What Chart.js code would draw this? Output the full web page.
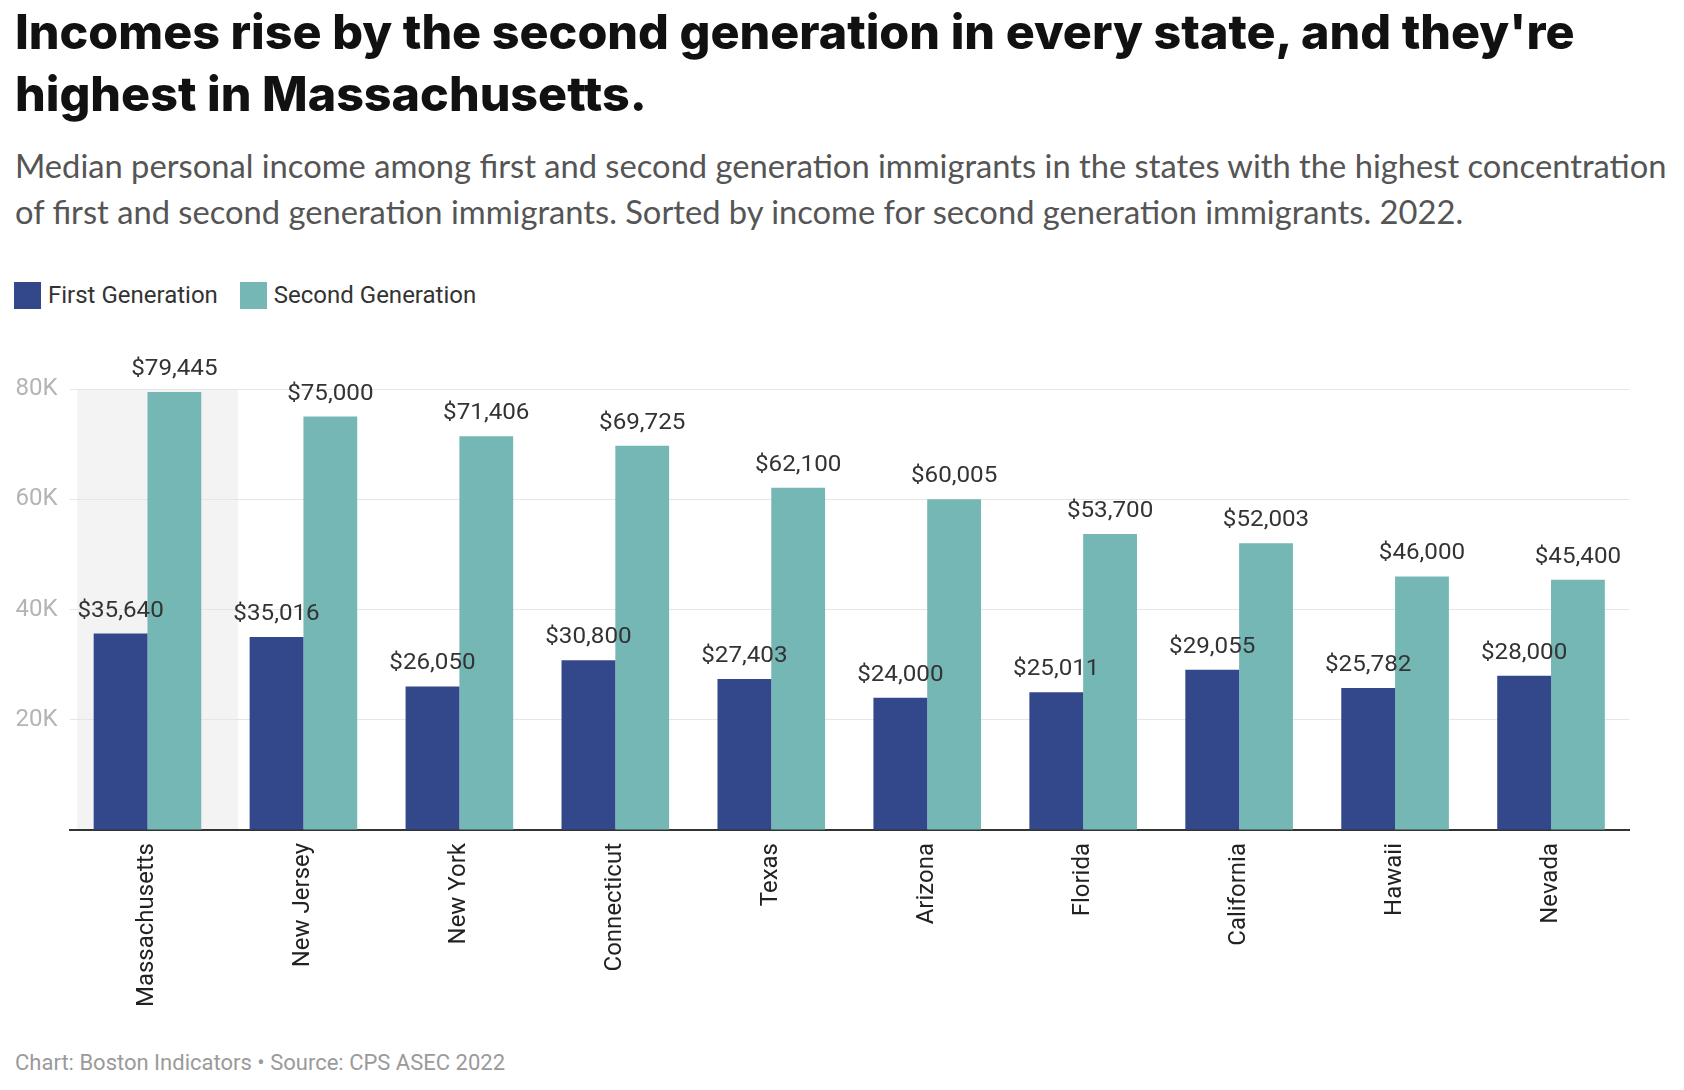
<!DOCTYPE html>
<html>
<head>
<meta charset="utf-8">
<script src="https://cdn.jsdelivr.net/npm/chart.js@4.4.1/dist/chart.umd.min.js"></script>
<style>
  body { margin: 0; background: #fff; width: 1684px; height: 1090px; position: relative; overflow: hidden; }
  #title { position: absolute; left: 15px; top: 1px; margin: 0; font-family: Inter, sans-serif; font-weight: 800; font-size: 48.4px; line-height: 62px; color: #111; white-space: nowrap; }
  #sub { position: absolute; left: 15px; top: 143px; margin: 0; font-family: Lato, sans-serif; font-size: 32.7px; line-height: 46px; color: #555; white-space: nowrap; }
  .legend { position: absolute; top: 281px; left: 14px; display: flex; align-items: center; font-family: Roboto, sans-serif; font-size: 24px; color: #333; }
  .sw { width: 27px; height: 27px; margin-right: 7px; }
  .item { display: flex; align-items: center; margin-right: 22px; }
  #wrap { position: absolute; left: 0; top: 340px; width: 1684px; height: 700px; }
  #foot { position: absolute; left: 15px; top: 1050px; font-family: Roboto, sans-serif; font-size: 22px; color: #9a9a9a; }
</style>
</head>
<body>
<h1 id="title">Incomes rise by the second generation in every state, and they're<br>highest in Massachusetts.</h1>
<p id="sub">Median personal income among first and second generation immigrants in the states with the highest concentration<br>of first and second generation immigrants. Sorted by income for second generation immigrants. 2022.</p>
<div class="legend">
  <div class="item"><div class="sw" style="background:#33488b"></div>First Generation</div>
  <div class="item"><div class="sw" style="background:#75b7b5"></div>Second Generation</div>
</div>
<div id="wrap"><canvas id="myChart"></canvas></div>
<div id="foot">Chart: Boston Indicators • Source: CPS ASEC 2022</div>

<script>
const states = ['Massachusetts', 'New Jersey', 'New York', 'Connecticut', 'Texas', 'Arizona', 'Florida', 'California', 'Hawaii', 'Nevada']
const firstGen = [35640, 35016, 26050, 30800, 27403, 24000, 25011, 29055, 25782, 28000]
const secondGen = [79445, 75000, 71406, 69725, 62100, 60005, 53700, 52003, 46000, 45400]
const yTicks = [20000, 40000, 60000, 80000]

// grey band behind the first state
const highlight = {
   id: 'highlight',
   beforeDraw(chart) {
      const x = chart.scales.x
      const area = chart.chartArea
      const c = x.getPixelForValue(0)
      const w = x.getPixelForValue(1) - c
      const ctx = chart.ctx
      ctx.save()
      ctx.fillStyle = '#f3f3f3'
      ctx.fillRect(c - 0.45 * w, area.top, 1.03 * w, area.bottom - area.top)
      ctx.restore()
   }
}

// dollar labels above the bars (text looks a bit wide in the original)
const barLabels = {
   id: 'barLabels',
   afterDatasetsDraw(chart) {
      const ctx = chart.ctx
      ctx.save()
      ctx.font = '22px Roboto'
      ctx.fillStyle = '#333'
      ctx.textAlign = 'center'
      chart.data.datasets.forEach((ds, i) => {
         chart.getDatasetMeta(i).data.forEach((bar, j) => {
            ctx.save()
            ctx.translate(bar.x, bar.y - 17)
            ctx.scale(1.1, 1)
            ctx.fillText('$' + ds.data[j].toLocaleString('en-US'), 0, 0)
            ctx.restore()
         })
      })
      ctx.restore()
   }
}

const ctx = document.getElementById('myChart')

new Chart(ctx, {
   type: 'bar',
   data: {
      labels: states,
      datasets: [
         { label: 'First Generation', data: firstGen, backgroundColor: '#33488b' },
         { label: 'Second Generation', data: secondGen, backgroundColor: '#75b7b5' }
      ]
   },
   options: {
      responsive: true,
      maintainAspectRatio: false,
      animation: false,
      categoryPercentage: 0.69,
      barPercentage: 1,
      layout: { padding: { top: 49, right: 55, bottom: 0, left: 0 } },
      plugins: { legend: { display: false }, tooltip: { enabled: false } },
      scales: {
         x: {
            grid: { display: false, drawTicks: false },
            border: { display: true, color: '#333', width: 2 },
            ticks: {
               color: '#222',
               font: { family: 'Roboto', size: 24 },
               minRotation: 90,
               maxRotation: 90,
               padding: 13
            },
            afterFit(scale) { scale.height = 210 }
         },
         y: {
            min: 0,
            max: 80000,
            afterBuildTicks(scale) { scale.ticks = [0, ...yTicks].map(v => ({ value: v })) },
            grid: { color: '#e6e6e6', lineWidth: 1, drawTicks: false },
            border: { display: false },
            ticks: {
               color: '#b4b4b4',
               font: { family: 'Roboto', size: 24 },
               padding: 12,
               callback: v => v === 0 ? '' : (v / 1000) + 'K'
            },
            afterFit(scale) { scale.width = 69.5 }
         }
      }
   },
   plugins: [highlight, barLabels]
})
</script>
</body>
</html>
